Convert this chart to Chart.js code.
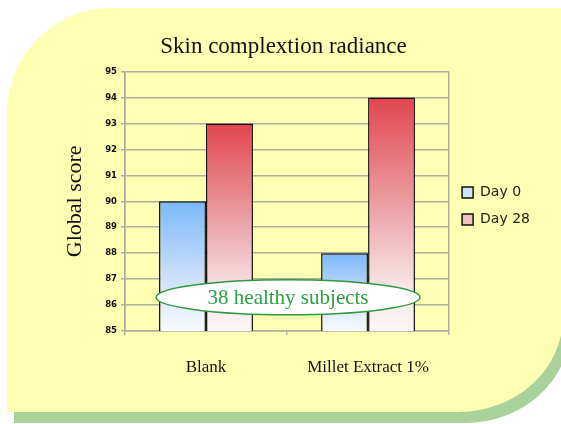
<!DOCTYPE html>
<html>
<head>
<meta charset="utf-8">
<title>Skin complextion radiance</title>
<script src="https://cdn.jsdelivr.net/npm/chart.js@4.4.1/dist/chart.umd.min.js"></script>
<style>
  html, body { margin: 0; padding: 0; background: #fff; }
  #wrap { position: relative; width: 561px; height: 424px; overflow: hidden; }
  .shadow { position: absolute; left: 14px; top: 19px; width: 556px; height: 404px; background: #a9d29b;
            border-radius: 105px 0 105px 0 / 105px 0 95px 0; }
  .card { position: absolute; left: 7px; top: 8px; width: 556px; height: 404px; background: #ffffb3;
          border-radius: 105px 0 105px 0 / 105px 0 95px 0; }
  canvas { position: absolute; left: 0; top: 0; }
</style>
</head>
<body>
<div id="wrap">
  <div class="shadow"></div>
  <div class="card"></div>
  <canvas id="myChart" width="561" height="424"></canvas>
</div>
<script>
'use strict'

// data
let categories = ['Blank', 'Millet Extract 1%'];
let seriesNames = ['Day 0', 'Day 28'];
let day0Scores = [90, 88];
let day28Scores = [93, 94];
let yTicks = { min: 85, max: 95, step: 1 };
let chartTitle = 'Skin complextion radiance';
let yAxisTitle = 'Global score';
let noteText = '38 healthy subjects';
let noteAt = 86.3; // y value where the green bubble sits

let serif = '"Liberation Serif", "Times New Roman", serif';
let sans = '"DejaVu Sans", Verdana, sans-serif';
let gridGrey = '#adada4';
let legendFills = ['#d0e3fa', '#f2c0c3'];

// vertical gradient from the top of each bar down to the axis
function barFill(stops) {
  return function (ctx) {
    let chart = ctx.chart;
    let area = chart.chartArea;
    if (!area || !ctx.parsed) return stops[0][1];
    let top = chart.scales.y.getPixelForValue(ctx.parsed.y);
    let g = chart.ctx.createLinearGradient(0, top, 0, area.bottom);
    stops.forEach(function (s) { g.addColorStop(s[0], s[1]); });
    return g;
  };
}

// thin white line on the left of the card, and the bar shadows + note bubble
let extras = {
  id: 'extras',
  beforeDraw(chart) {
    let c = chart.ctx;
    c.save();
    c.strokeStyle = '#ffffff';
    c.lineWidth = 1;
    c.beginPath();
    c.moveTo(83.5, 63);
    c.lineTo(83.5, 345);
    c.stroke();
    c.restore();
  },
  beforeDatasetsDraw(chart) {
    let c = chart.ctx;
    c.save();
    c.shadowColor = 'rgba(60, 60, 40, 0.45)';
    c.shadowOffsetX = 3;
    c.shadowOffsetY = 1;
    c.shadowBlur = 2;
  },
  afterDatasetsDraw(chart) {
    let c = chart.ctx;
    c.restore();
    let area = chart.chartArea;
    let cx = (area.left + area.right) / 2 + 1;
    let cy = chart.scales.y.getPixelForValue(noteAt);
    c.save();
    c.beginPath();
    c.ellipse(cx, cy, 132, 17.5, 0, 0, Math.PI * 2);
    c.fillStyle = '#ffffff';
    c.fill();
    c.lineWidth = 1.5;
    c.strokeStyle = '#2e9a3e';
    c.stroke();
    c.fillStyle = '#2aa143';
    c.font = '21px ' + serif;
    c.textAlign = 'center';
    c.textBaseline = 'middle';
    c.fillText(noteText, cx, cy + 1);
    c.restore();
  }
};

let data = {
  labels: categories,
  datasets: [{
    label: seriesNames[0],
    data: day0Scores,
    backgroundColor: barFill([[0, '#7ab8fa'], [0.55, '#c8defb'], [1, '#f8fbff']]),
    borderColor: '#111111',
    borderWidth: 1.5,
    borderSkipped: false
  }, {
    label: seriesNames[1],
    data: day28Scores,
    backgroundColor: barFill([[0, '#e2454f'], [0.45, '#eb9ea2'], [0.8, '#f7e4e4'], [1, '#fbf6f6']]),
    borderColor: '#111111',
    borderWidth: 1.5,
    borderSkipped: false
  }]
};

let config = {
  type: 'bar',
  data: data,
  plugins: [extras],
  options: {
    responsive: false,
    animation: false,
    categoryPercentage: 0.58,
    barPercentage: 1,
    layout: { padding: { left: 27, right: 21, top: 0, bottom: 0 } },
    plugins: {
      tooltip: { enabled: false },
      title: {
        display: true,
        text: chartTitle,
        color: '#111111',
        font: { family: serif, size: 23, weight: 'normal' },
        padding: { top: 33, bottom: 11 }
      },
      legend: {
        position: 'right',
        fullSize: false,
        title: { display: true, text: ' ', font: { size: 8 }, padding: 0 },
        labels: {
          boxWidth: 11,
          boxHeight: 11,
          padding: 13,
          color: '#222222',
          font: { family: sans, size: 14 },
          generateLabels(chart) {
            let items = Chart.defaults.plugins.legend.labels.generateLabels(chart);
            items.forEach(function (item, i) { item.fillStyle = legendFills[i]; });
            return items;
          }
        }
      }
    },
    scales: {
      x: {
        offset: true,
        afterFit(scale) { scale.height = 93; },
        grid: {
          offset: true,
          drawOnChartArea: true,
          color: function (ctx) { return ctx.index === 1 ? 'rgba(0,0,0,0)' : gridGrey; },
          tickColor: gridGrey,
          lineWidth: 1.5,
          tickLength: 4
        },
        border: { color: gridGrey, width: 1.5 },
        ticks: {
          color: '#111111',
          padding: 22,
          font: { family: serif, size: 17 }
        }
      },
      y: {
        min: yTicks.min,
        max: yTicks.max,
        afterFit(scale) { scale.width = 98; },
        title: {
          display: true,
          text: yAxisTitle,
          color: '#111111',
          font: { family: serif, size: 22, weight: 'normal' },
          padding: { top: 35, bottom: 0 }
        },
        grid: { color: gridGrey, lineWidth: 1.5, tickLength: 4 },
        border: { color: gridGrey, width: 1.5 },
        ticks: {
          stepSize: yTicks.step,
          padding: 4,
          color: '#111111',
          font: { family: sans, size: 8.5, weight: 'bold' }
        }
      }
    }
  }
};

let myChart = new Chart(document.getElementById('myChart'), config);
</script>
</body>
</html>
